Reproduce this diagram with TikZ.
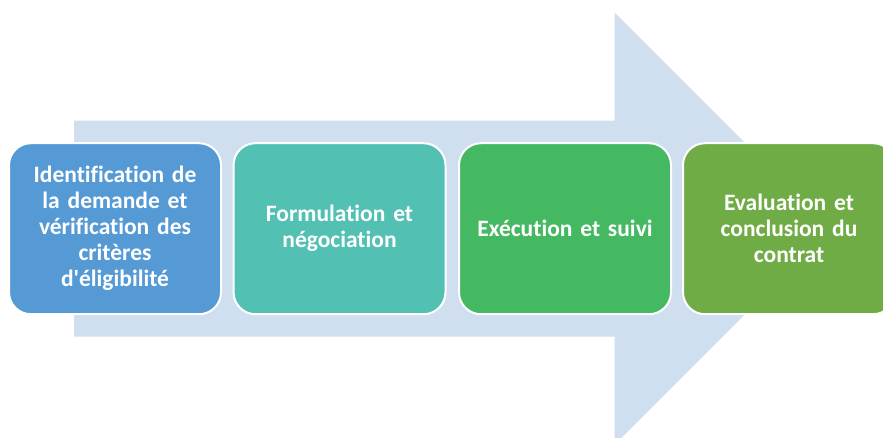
\documentclass[tikz,border=0pt]{standalone}
\usepackage{fontspec}
\setmainfont{Carlito}[Ligatures={NoCommon,TeXOff},WordSpace=0.8]
\definecolor{arrowc}{HTML}{D0DFEF}
\definecolor{cA}{HTML}{559AD4}
\definecolor{cB}{HTML}{52C1B3}
\definecolor{cC}{HTML}{45B862}
\definecolor{cD}{HTML}{70AC45}
\begin{document}
\begin{tikzpicture}[x=1pt,y=-1pt,
  stagebox/.style={draw=white, line width=2pt, rounded corners=22pt,
    minimum width=212pt, minimum height=171pt, inner sep=0pt,
    text width=200pt, align=center, text=white,
    font=\fontsize{23.5}{26}\selectfont\bfseries}]
\useasboundingbox (0,0) rectangle (883,437);
\clip (0,0) rectangle (883,437);
\fill[arrowc] (74,120.7) -- (614.7,120.7) -- (614.7,12.7) -- (830.7,228.7)
  -- (614.7,444.7) -- (614.7,336.7) -- (74,336.7) -- cycle;
\node[stagebox, fill=cA] (s1) at (115,228.7) {Identification de\\la demande et\\vérification des\\critères\\d'éligibilité};
\node[stagebox, fill=cB] (s2) at (339.5,228.7) {Formulation et\\négociation};
\node[stagebox, fill=cC] (s3) at (565,228.7) {Exécution et suivi};
\node[stagebox, fill=cD] (s4) at (789,228.7) {Evaluation et\\conclusion du\\contrat};
\end{tikzpicture}
\end{document}
